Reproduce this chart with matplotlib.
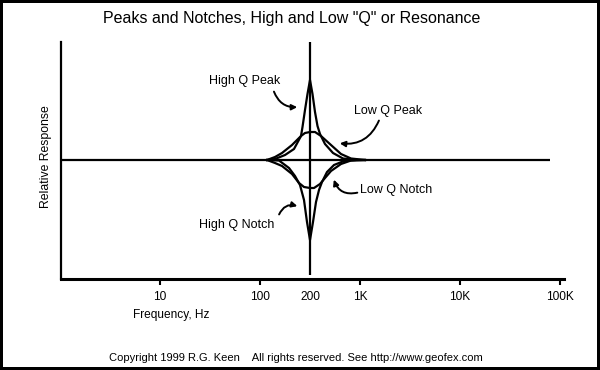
import numpy as np
import matplotlib
matplotlib.use("Agg")
import matplotlib.pyplot as plt
from matplotlib.patches import FancyArrowPatch

plt.rcParams['font.family'] = ['Liberation Sans', 'DejaVu Sans']

# x axis is in decades of frequency, the curves sit on the "200" mark
tick_pos = [1, 2, 2.5, 3, 4, 5]
tick_labels = ["10", "100", "200", "1K", "10K", "100K"]
center = 2.5

# curves: offset from center (decades) and relative response
low_q_peak_x = [-0.43, -0.35, -0.28, -0.18, -0.09, -0.05, 0.0, 0.05, 0.11, 0.21, 0.31, 0.41, 0.55]
low_q_peak_y = [0, 3, 7, 15, 24, 27, 28, 28, 24, 15, 6, 1.5, 0]

high_q_peak_x = [-0.43, -0.35, -0.25, -0.16, -0.09, -0.075, -0.05, -0.025, 0.0,
                 0.025, 0.05, 0.075, 0.10, 0.15, 0.23, 0.33, 0.48, 0.55]
high_q_peak_y = [0, 1, 5, 11, 24, 33, 50, 66, 80, 66, 48, 34, 26, 16, 7, 1.5, 0, 0]

low_q_notch_x = [-0.43, -0.35, -0.28, -0.18, -0.11, -0.06, 0.0, 0.04, 0.10, 0.15, 0.21, 0.31, 0.41, 0.55]
low_q_notch_y = [0, -3, -6, -14, -23, -27, -28, -28, -24, -18, -11, -4, -0.5, 0]

high_q_notch_x = [-0.43, -0.31, -0.21, -0.15, -0.10, -0.06, -0.03, 0.0, 0.03, 0.06,
                  0.09, 0.12, 0.17, 0.24, 0.34, 0.48, 0.55]
high_q_notch_y = [0, -0.5, -8, -16, -25, -40, -62, -80, -62, -42, -30, -22, -12, -5, -1, 0, 0]

flat_x = [-0.3, 0.3]

fig = plt.figure(figsize=(6, 3.7), dpi=100, facecolor="white", edgecolor="black")
fig.patch.set_linewidth(3)
ax = fig.add_axes([61 / 600, 91 / 370, 503 / 600, 237 / 370])
ax.set_xlim(0.01, 5.04)
ax.set_ylim(-119, 118)

# reference lines
ax.hlines(0, 0.01, 4.9, color="black", lw=1.6)
ax.vlines(center, -115, 118, color="black", lw=1.6)
ax.plot(center + np.array(flat_x), [0, 0], color="black", lw=1.3, dashes=(3, 2))

for xs, ys in [(low_q_peak_x, low_q_peak_y), (high_q_peak_x, high_q_peak_y),
               (low_q_notch_x, low_q_notch_y), (high_q_notch_x, high_q_notch_y)]:
    ax.plot(center + np.array(xs), ys, color="black", lw=1.6)

# labels with curved arrows
notes = [
    ("High Q Peak", (1.85, 79), (2.13, 71), (2.40, 53), 0.4),
    ("Low Q Peak", (3.28, 49), (3.20, 42), (2.77, 17), -0.4),
    ("Low Q Notch", (3.36, -30), (3.00, -32), (2.73, -17), -0.5),
    ("High Q Notch", (1.77, -65), (2.18, -57), (2.40, -47), -0.5),
]
for txt, tpos, a, b, rad in notes:
    ax.text(tpos[0], tpos[1], txt, ha="center", va="center", fontsize=9)
    ax.add_patch(FancyArrowPatch(a, b, arrowstyle="-|>", mutation_scale=8,
                                 connectionstyle=f"arc3,rad={rad}", color="black", lw=1.4))

for s in ["top", "right"]:
    ax.spines[s].set_visible(False)
ax.spines["left"].set_linewidth(1.6)
ax.spines["bottom"].set_linewidth(2.2)

ax.set_yticks([])
ax.set_xticks(tick_pos)
ax.set_xticklabels(tick_labels, fontsize=8.6)
ax.tick_params(axis="x", direction="out", length=4.5, width=1.5, pad=4)
ax.xaxis.get_major_ticks()[2].tick1line.set_visible(False)

fig.text(292 / 600, 1 - 18 / 370, 'Peaks and Notches, High and Low "Q" or Resonance',
         ha="center", va="center", fontsize=11.5)
fig.text(171 / 600, 1 - 315 / 370, "Frequency, Hz", ha="center", va="center", fontsize=8.6)
fig.text(46 / 600, 1 - 157 / 370, "Relative Response", ha="center", va="center",
         rotation=90, fontsize=8.8)
fig.text(296 / 600, 1 - 358 / 370,
         "Copyright 1999 R.G. Keen    All rights reserved. See http://www.geofex.com",
         ha="center", va="center", fontsize=8)

fig.savefig("out.png", dpi=100)
